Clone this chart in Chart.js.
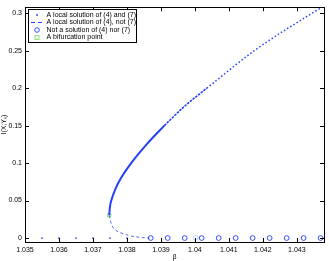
<!DOCTYPE html>
<html>
<head>
<meta charset="utf-8">
<script src="https://cdn.jsdelivr.net/npm/chart.js@4/dist/chart.umd.min.js"></script>
<style>
  html, body { margin: 0; padding: 0; background: #fff; }
  #wrap { width: 329px; height: 261px; }
</style>
</head>
<body>
<div id="wrap"><canvas id="chart" width="329" height="261"></canvas></div>
<script>
// Tick labels
const xTicks = [1.035, 1.036, 1.037, 1.038, 1.039, 1.04, 1.041, 1.042, 1.043];
const yTicks = [0, 0.05, 0.1, 0.15, 0.2, 0.25, 0.3];

// Upper branch (local solution of (4) and (7))
const upperDenseX = [1.03748, 1.037495, 1.03754, 1.037656, 1.037825, 1.038125, 1.03858, 1.0391];
const upperDenseY = [0.0304, 0.04, 0.05, 0.065, 0.08, 0.1, 0.125, 0.15];
const upperMidX = [1.0391, 1.039675, 1.04035];
const upperMidY = [0.15, 0.175, 0.2];
const upperSparseX = [1.04035, 1.04175, 1.04345, 1.04375];
const upperSparseY = [0.2, 0.25, 0.3, 0.308];

// Trivial branch at zero, before the bifurcation
const zeroDotsX = [1.035, 1.0355, 1.036, 1.0365, 1.037, 1.0375, 1.038];
const zeroDotsY = [0, 0, 0, 0, 0, 0, 0];

// Lower branch: local solution of (4), not (7)
const lowerX = [1.03748, 1.03752, 1.03758, 1.0377, 1.03788, 1.0381, 1.03837, 1.03866];
const lowerY = [0.0304, 0.022, 0.015, 0.0095, 0.006, 0.003, 0.001, 0];

// Not a solution of (4) nor (7)
const circlesX = [1.0387, 1.0392, 1.0397, 1.0402, 1.0407, 1.0412, 1.0417, 1.0422, 1.0427, 1.0432, 1.0437];
const circlesY = [0, 0, 0, 0, 0, 0, 0, 0, 0, 0, 0];
const faintX = [1.04002];
const faintY = [0];

// Bifurcation point
const bifX = [1.03748];
const bifY = [0.0304];

const legendLabels = [
  'A local solution of (4) and (7)',
  'A local solution of (4), not (7)',
  'Not a solution of (4) nor (7)',
  'A bifurcation point'
];

const BLUE = 'rgb(35,65,250)';
const GREEN = 'rgb(130,225,100)';
const FONT = 'Liberation Sans, Arial, sans-serif';

const pts = (xs, ys) => xs.map((x, i) => ({ x: x, y: ys[i] }));

// Box, inside ticks on all four sides, legend
const framePlugin = {
  id: 'frame',
  afterDraw(chart) {
    const { ctx, chartArea: a, scales } = chart;
    ctx.save();
    ctx.strokeStyle = '#000';
    ctx.lineWidth = 1;
    ctx.beginPath();
    const tl = 4;
    xTicks.forEach(v => {
      const px = Math.round(scales.x.getPixelForValue(v)) + 0.5;
      ctx.moveTo(px, a.bottom); ctx.lineTo(px, a.bottom - tl);
      ctx.moveTo(px, a.top); ctx.lineTo(px, a.top + tl);
    });
    yTicks.forEach(v => {
      const py = Math.round(scales.y.getPixelForValue(v)) + 0.5;
      ctx.moveTo(a.left, py); ctx.lineTo(a.left + tl, py);
      ctx.moveTo(a.right, py); ctx.lineTo(a.right - tl, py);
    });
    ctx.stroke();
    ctx.strokeRect(Math.round(a.left) + 0.5, Math.round(a.top) + 0.5,
      Math.round(a.right - a.left), Math.round(a.bottom - a.top));

    // legend
    const lx = 28, ly = 9, lw = 108, lh = 33;
    ctx.fillStyle = '#fff';
    ctx.fillRect(lx, ly, lw, lh);
    ctx.strokeStyle = '#000';
    ctx.strokeRect(lx + 0.5, ly + 0.5, lw, lh);
    const rows = [15, 22.5, 30, 37.5];
    const mx = 37;
    ctx.fillStyle = BLUE;
    ctx.beginPath(); ctx.arc(mx, rows[0], 0.9, 0, Math.PI * 2); ctx.fill();
    ctx.strokeStyle = BLUE;
    ctx.setLineDash([4, 3]);
    ctx.beginPath(); ctx.moveTo(31, rows[1]); ctx.lineTo(44, rows[1]); ctx.stroke();
    ctx.setLineDash([]);
    ctx.lineWidth = 0.9;
    ctx.beginPath(); ctx.arc(mx, rows[2], 2.3, 0, Math.PI * 2); ctx.stroke();
    ctx.strokeStyle = GREEN;
    ctx.strokeRect(mx - 2, rows[3] - 2, 4, 4);
    ctx.fillStyle = '#000';
    ctx.font = '7px ' + FONT;
    ctx.textBaseline = 'middle';
    ctx.textAlign = 'left';
    legendLabels.forEach((t, i) => ctx.fillText(t, 46.5, rows[i]));
    ctx.restore();
  }
};

new Chart(document.getElementById('chart'), {
  type: 'scatter',
  data: {
    datasets: [
      { data: pts(upperDenseX, upperDenseY), showLine: true, borderColor: BLUE, borderWidth: 2,
        pointRadius: 0, cubicInterpolationMode: 'monotone' },
      { data: pts(upperMidX, upperMidY), showLine: true, borderColor: BLUE, borderWidth: 1.6,
        borderDash: [2.5, 1], pointRadius: 0, cubicInterpolationMode: 'monotone' },
      { data: pts(upperSparseX, upperSparseY), showLine: true, borderColor: BLUE, borderWidth: 1.5,
        borderDash: [1.5, 2.2], pointRadius: 0, cubicInterpolationMode: 'monotone' },
      { data: pts(lowerX, lowerY), showLine: true, borderColor: BLUE, borderWidth: 0.8,
        borderDash: [3, 2.5], pointRadius: 0, tension: 0.4 },
      { data: pts(zeroDotsX, zeroDotsY), pointRadius: 0.9, pointBackgroundColor: BLUE,
        pointBorderWidth: 0 },
      { data: pts(circlesX, circlesY), pointRadius: 2.4, pointBackgroundColor: 'rgba(0,0,0,0)',
        pointBorderColor: BLUE, pointBorderWidth: 0.9 },
      { data: pts(faintX, faintY), pointRadius: 2.4, pointBackgroundColor: 'rgba(0,0,0,0)',
        pointBorderColor: 'rgb(190,205,245)', pointBorderWidth: 0.9 },
      { data: pts(bifX, bifY), pointStyle: 'rect', pointRadius: 2.3, pointBackgroundColor: 'rgba(0,0,0,0)',
        pointBorderColor: GREEN, pointBorderWidth: 1 }
    ]
  },
  options: {
    responsive: false,
    animation: false,
    devicePixelRatio: 1,
    layout: { padding: { top: 5, right: 4, left: 0, bottom: 0 } },
    plugins: { legend: { display: false }, tooltip: { enabled: false } },
    scales: {
      x: {
        type: 'linear', min: 1.035, max: 1.0438,
        grid: { display: false, drawTicks: false }, border: { display: false },
        afterBuildTicks: s => { s.ticks = xTicks.map(v => ({ value: v })); },
        afterFit: s => { s.height = 19; },
        ticks: { padding: 4, color: '#000', font: { family: FONT, size: 7 }, maxRotation: 0,
          autoSkip: false, callback: v => String(v) },
        title: { display: true, text: 'β', color: '#000', font: { family: FONT, size: 7 },
          padding: { top: 0, bottom: 0 } }
      },
      y: {
        type: 'linear', min: -0.0053, max: 0.308,
        grid: { display: false, drawTicks: false }, border: { display: false },
        afterBuildTicks: s => { s.ticks = yTicks.map(v => ({ value: v })); },
        afterFit: s => { s.width = 25; },
        ticks: { padding: 3, color: '#000', font: { family: FONT, size: 7 }, autoSkip: false,
          callback: v => String(v) },
        title: { display: true, text: 'I(X;Yₖ)', color: '#000', font: { family: FONT, size: 7 },
          padding: { top: 0, bottom: 0 } }
      }
    }
  },
  plugins: [framePlugin]
});
</script>
</body>
</html>
